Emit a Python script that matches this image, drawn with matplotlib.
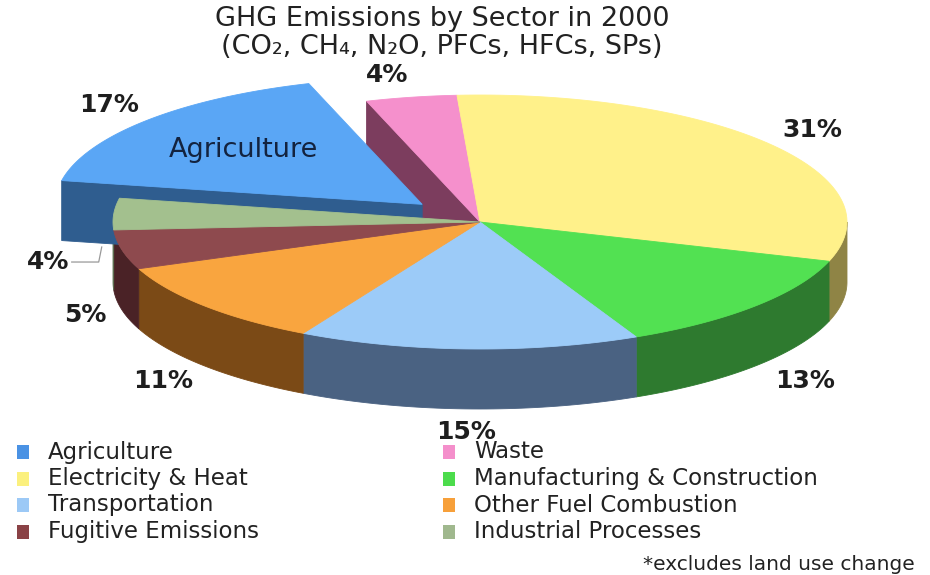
"""
3D-style exploded pie of GHG emissions by sector (2000), drawn with flat
matplotlib polygons: outer walls first, then the pulled-out slice, then tops.
"""

import numpy as np
import matplotlib
matplotlib.use("Agg")
import matplotlib.pyplot as plt
from matplotlib.patches import Polygon, Rectangle

# data, in clockwise pie order (same order as the legend, row by row)
sectors = [
    "Agriculture",
    "Waste",
    "Electricity & Heat",
    "Manufacturing & Construction",
    "Transportation",
    "Other Fuel Combustion",
    "Fugitive Emissions",
    "Industrial Processes",
]
shares = [17, 4, 31, 13, 15, 11, 5, 4]

top_colors = ["#5aa6f5", "#f590cc", "#fff18a", "#52e152",
              "#9ccbf8", "#f9a53f", "#8e4a4e", "#a3c08e"]
wall_colors = ["#2f5d8f", "#7c3d5e", "#8f8445", "#2e7a2f",
               "#4a6282", "#7b4a16", "#4a2226", "#5d6e50"]
legend_colors = ["#4a92e4", "#f48fcb", "#fbf07e", "#4cdc4c",
                 "#9cc9f6", "#f7a03a", "#8a4246", "#a0b88e"]

explode = [0.21, 0, 0, 0, 0, 0, 0, 0]
label_dx = [12, -12, -10, 0, 0, 8, 28, 0]

# pie geometry in pixels
CX, CY, RX, RY, DEPTH = 480, 222, 367, 127, 60
START = 169.2

fig = plt.figure(figsize=(9.3, 5.75), dpi=100)
ax = fig.add_axes([0, 0, 1, 1])
ax.set_xlim(0, 930)
ax.set_ylim(575, 0)
ax.axis("off")


def ell(t, off=(0.0, 0.0), dz=0.0):
    t = np.radians(np.atleast_1d(t))
    return np.column_stack([CX + off[0] + RX * np.cos(t),
                            CY + off[1] - RY * np.sin(t) + dz])


def poly(pts, color, z):
    ax.add_patch(Polygon(pts, closed=True, facecolor=color, edgecolor=color,
                         linewidth=0.6, zorder=z))


bounds = START - 3.6 * np.concatenate([[0], np.cumsum(shares)])
n = len(shares)
mids, offs = [], []
for i in range(n):
    m = np.radians((bounds[i] + bounds[i + 1]) / 2)
    mids.append(m)
    offs.append((explode[i] * RX * np.cos(m), -explode[i] * RY * np.sin(m)))

for i in range(n):
    a0, a1 = bounds[i], bounds[i + 1]
    off = offs[i]
    pulled = explode[i] > 0
    z_wall = 3 if pulled else 1
    z_top = 4 if pulled else 5

    # outer wall, front half only
    lo, hi = max(a1, -180), min(a0, 0)
    if lo < hi:
        t = np.linspace(hi, lo, 50)
        pts = np.vstack([ell(t, off), ell(t[::-1], off, DEPTH)])
        poly(pts, wall_colors[i], z_wall)

    # radial walls that face the viewer next to a pulled-out slice
    for edge, normal, nb in ((a0, a0 + 90, (i - 1) % n), (a1, a1 - 90, (i + 1) % n)):
        if not (pulled or explode[nb] > 0):
            continue
        if np.sin(np.radians(normal)) >= 0:
            continue
        c = (CX + off[0], CY + off[1])
        p = ell(edge, off)[0]
        pts = [c, p, (p[0], p[1] + DEPTH), (c[0], c[1] + DEPTH)]
        poly(pts, wall_colors[i], z_wall)

    # top face
    t = np.linspace(a0, a1, 80)
    pts = np.vstack([[CX + off[0], CY + off[1]], ell(t, off)])
    poly(pts, top_colors[i], z_top)

# percentage labels
for i in range(n):
    m = mids[i]
    off = offs[i]
    if i == n - 1:
        # small slice at the left gets a leader line
        ex, ey = ell(np.degrees(m))[0]
        ax_, ay_ = ex - 12, ey + DEPTH * 0.55
        ax.plot([ax_, ax_ - 3, ax_ - 30], [ay_, ay_ + 15, ay_ + 15],
                color="#999999", linewidth=0.9, zorder=6)
        ax.text(ax_ - 32, ay_ + 15, f"{shares[i]}%", ha="right", va="center",
                fontsize=18, fontweight="bold", color="#1e1e1e", zorder=7)
        continue
    x = CX + off[0] + 1.18 * RX * np.cos(m) + label_dx[i]
    y = CY + off[1] - 1.18 * RY * np.sin(m)
    if np.sin(m) < 0:
        y += DEPTH
    ax.text(x, y, f"{shares[i]}%", ha="center", va="center",
            fontsize=18, fontweight="bold", color="#1e1e1e", zorder=7)

# sector name on the pulled-out slice
m, off = mids[0], offs[0]
ax.text(CX + off[0] + 0.65 * RX * np.cos(m), CY + off[1] - 0.65 * RY * np.sin(m),
        sectors[0], ha="center", va="center", fontsize=19.5, color="#13233f",
        zorder=7)

# title
ax.text(442, 33, "GHG Emissions by Sector in 2000\n(CO₂, CH₄, N₂O, PFCs, HFCs, SPs)",
        ha="center", va="center", multialignment="center", fontsize=19.5,
        color="#222222", linespacing=1.15)

# legend, two columns filled row by row
for i, name in enumerate(sectors):
    row, col = i // 2, i % 2
    x0 = 17 + col * 426
    y0 = 452 + row * 26.5
    ax.add_patch(Rectangle((x0, y0 - 7), 12, 14, facecolor=legend_colors[i],
                           edgecolor="none", zorder=7))
    ax.text(x0 + 31, y0, name, ha="left", va="center", fontsize=16.5,
            color="#222222")

ax.text(915, 564, "*excludes land use change", ha="right", va="center",
        fontsize=14.5, color="#222222")

fig.savefig("out.png", dpi=100)
